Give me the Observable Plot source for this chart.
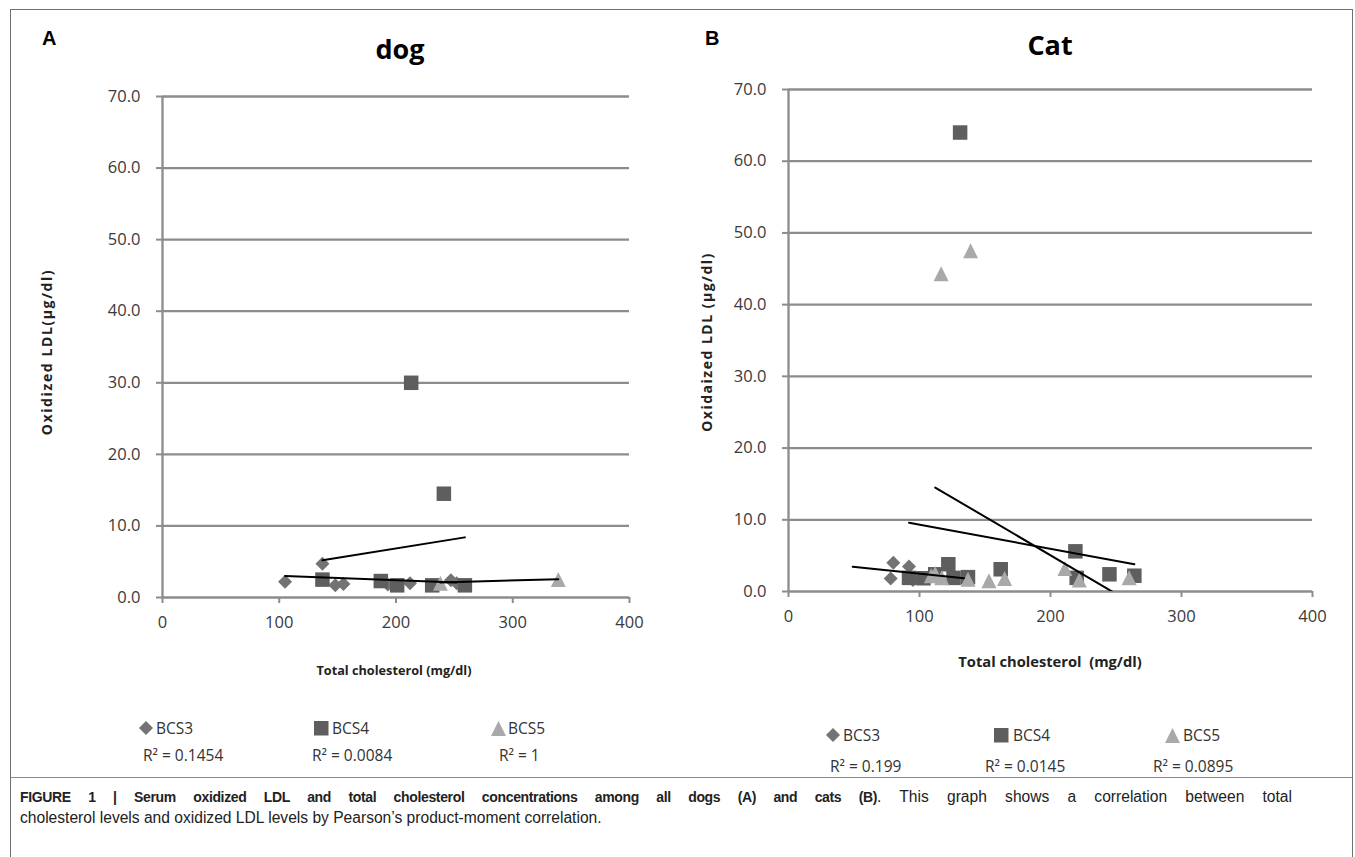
<!DOCTYPE html>
<html><head><meta charset="utf-8">
<script src="https://cdn.jsdelivr.net/npm/d3@7"></script>
<script src="https://cdn.jsdelivr.net/npm/@observablehq/plot@0.6"></script>
<style>
body{margin:0;background:#fff;}
#fig{position:relative;width:1355px;height:857px;overflow:hidden;font-family:"Open Sans",sans-serif;color:#222;}
.abs{position:absolute;white-space:nowrap;}
.panel{position:absolute;top:0;}
.leg{position:absolute;white-space:nowrap;font-family:"Open Sans",sans-serif;font-size:15.5px;color:#333;line-height:20px;}
.cap{position:absolute;white-space:nowrap;font-family:"Liberation Sans",Arial,sans-serif;font-size:15.6px;line-height:21px;color:#222;}
.cap b{font-size:14px;letter-spacing:-0.35px;}
</style></head><body><div id="fig"></div>
<script>
// ---- data ----
const seriesNames = ["BCS3", "BCS4", "BCS5"];
const seriesColors = ["#737373", "#5e5e5e", "#a9a9a9"];
const yTicks = [0, 10, 20, 30, 40, 50, 60, 70];
const gridTicks = [10, 20, 30, 40, 50, 60, 70];
const xTicks = [0, 100, 200, 300, 400];

// dog (A)
const dogBCS3x = [105, 137, 148, 155, 193, 212, 247, 252];
const dogBCS3y = [2.2, 4.7, 1.7, 1.9, 1.8, 2.0, 2.4, 2.0];
const dogBCS4x = [137, 187, 201, 213, 231, 241, 259];
const dogBCS4y = [2.5, 2.3, 1.7, 30.0, 1.7, 14.5, 1.7];
const dogBCS5x = [238, 339];
const dogBCS5y = [2.0, 2.5];
const dogTrendBCS3x = [105, 252];
const dogTrendBCS3y = [3.0, 2.1];
const dogTrendBCS4x = [137, 259];
const dogTrendBCS4y = [5.2, 8.4];
const dogTrendBCS5x = [238, 339];
const dogTrendBCS5y = [2.1, 2.55];
const dogR2 = ["R² = 0.1454", "R² = 0.0084", "R² = 1"];

// cat (B)
const catBCS3x = [78, 80, 92, 95];
const catBCS3y = [1.8, 4.0, 3.5, 1.6];
const catBCS4x = [92, 103, 112, 122, 126, 131, 137, 162, 219, 220, 245, 264];
const catBCS4y = [1.9, 1.85, 2.4, 3.8, 1.9, 64.0, 2.0, 3.1, 5.6, 1.9, 2.4, 2.2];
const catBCS5x = [109, 112, 117, 116.5, 137, 139, 153, 165, 211, 222, 260];
const catBCS5y = [2.2, 2.5, 1.9, 44.3, 1.7, 47.5, 1.5, 1.8, 3.2, 1.6, 1.9];
const catTrendBCS3x = [49, 134];
const catTrendBCS3y = [3.45, 1.85];
const catTrendBCS4x = [92, 264];
const catTrendBCS4y = [9.6, 3.8];
const catTrendBCS5x = [112, 260];
const catTrendBCS5y = [14.5, -1.4];
const catR2 = ["R² = 0.199", "R² = 0.0145", "R² = 0.0895"];

// ---- helpers ----
const rows = (xs, ys) => xs.map((x, i) => ({x, y: ys[i]}));
const symDiamond = {draw(c, s){const w = Math.sqrt(s)/2; c.moveTo(0,-w); c.lineTo(w,0); c.lineTo(0,w); c.lineTo(-w,0); c.closePath();}};
const symSquare = {draw(c, s){const w = Math.sqrt(s)/2; c.moveTo(-w,-w); c.lineTo(w,-w); c.lineTo(w,w); c.lineTo(-w,w); c.closePath();}};
const symTriangle = {draw(c, s){const w = Math.sqrt(s)/2; c.moveTo(0,-w); c.lineTo(w,w); c.lineTo(-w,w); c.closePath();}};
const symbols = [symDiamond, symSquare, symTriangle];
const symWidths = [14, 14.5, 15];
const rOf = w => w / Math.sqrt(Math.PI);

function panel({w, h, ml, mr, mt, mb, pts, trends}) {
  const marks = [
    Plot.ruleY(gridTicks, {stroke: "#8c8c8c", strokeWidth: 2.3}),
    Plot.ruleY([0], {stroke: "#8c8c8c", strokeWidth: 2.3}),
    Plot.ruleX([0], {stroke: "#8c8c8c", strokeWidth: 2.3}),
    Plot.axisY({ticks: yTicks, tickFormat: d3.format(".1f"), tickSize: 6, tickPadding: 16, stroke: "#8c8c8c", strokeWidth: 2, fill: "#3a3a3a", label: null}),
    Plot.axisX({ticks: xTicks, tickSize: 6, tickPadding: 13, stroke: "#8c8c8c", strokeWidth: 2, fill: "#3a3a3a", label: null})
  ];
  pts.forEach((p, i) => marks.push(Plot.dot(p, {x: "x", y: "y", symbol: symbols[i], r: rOf(symWidths[i]), fill: seriesColors[i], stroke: "none"})));
  trends.forEach(t => marks.push(Plot.line(t, {x: "x", y: "y", stroke: "#000", strokeWidth: 2, clip: true})));
  return Plot.plot({
    width: w, height: h, marginLeft: ml, marginRight: mr, marginTop: mt, marginBottom: mb,
    x: {domain: [0, 400]}, y: {domain: [0, 70]},
    style: {fontFamily: "Open Sans", fontSize: "16.5px", background: "transparent", overflow: "visible"},
    marks
  });
}

const fig = document.getElementById("fig");
function add(html, css, cls = "abs") { const d = document.createElement("div"); d.className = cls; d.innerHTML = html; Object.assign(d.style, css); fig.appendChild(d); return d; }

// outer frame and separator
add("", {left: "10px", top: "9px", width: "1341px", height: "900px", border: "1.5px solid #707070"});
add("", {left: "10px", top: "777px", width: "1342px", height: "0", borderTop: "1.5px solid #8a8a8a"});

// dog panel
const dog = panel({w: 660, h: 700, ml: 162, mr: 31, mt: 96, mb: 103,
  pts: [rows(dogBCS3x, dogBCS3y), rows(dogBCS4x, dogBCS4y), rows(dogBCS5x, dogBCS5y)],
  trends: [rows(dogTrendBCS3x, dogTrendBCS3y), rows(dogTrendBCS4x, dogTrendBCS4y), rows(dogTrendBCS5x, dogTrendBCS5y)]});
dog.classList.add("panel"); dog.style.left = "0px"; fig.appendChild(dog);

// cat panel
const cat = panel({w: 695, h: 700, ml: 128, mr: 43, mt: 89, mb: 109,
  pts: [rows(catBCS3x, catBCS3y), rows(catBCS4x, catBCS4y), rows(catBCS5x, catBCS5y)],
  trends: [rows(catTrendBCS3x, catTrendBCS3y), rows(catTrendBCS4x, catTrendBCS4y), rows(catTrendBCS5x, catTrendBCS5y)]});
cat.classList.add("panel"); cat.style.left = "660px"; fig.appendChild(cat);

// panel letters and titles
const bold = {fontFamily: "Liberation Sans, Arial, sans-serif", fontWeight: "bold", fontSize: "20px", color: "#000"};
add("A", {...bold, left: "42px", top: "27px"});
add("B", {...bold, left: "705px", top: "27px"});
const ttl = {fontFamily: "Open Sans", fontWeight: "bold", fontSize: "27px", color: "#000", transform: "translate(-50%,-50%)"};
add("dog", {...ttl, left: "400px", top: "48px"});
add("Cat", {...ttl, left: "1050px", top: "44px"});

// axis titles
const yt = {fontFamily: "Open Sans", fontWeight: "bold", fontSize: "14px", color: "#222", transform: "translate(-50%,-50%) rotate(-90deg)"};
add("Oxidized LDL(μg/dl)", {...yt, left: "46px", top: "352px", letterSpacing: "1.6px"});
add("Oxidaized LDL (μg/dl)", {...yt, left: "706px", top: "342px", letterSpacing: "1.5px"});
const xt = {fontFamily: "Open Sans", fontWeight: "bold", fontSize: "12.7px", color: "#222", transform: "translate(-50%,-50%)"};
add("Total cholesterol (mg/dl)", {...xt, left: "394px", top: "670px"});
add("Total cholesterol&nbsp; (mg/dl)", {...xt, left: "1050px", top: "661px", fontSize: "14.7px"});

// legends
function legend(entries, rowY, r2Y, r2) {
  entries.forEach((e, i) => {
    const w = symWidths[i];
    const svg = d3.create("svg").attr("width", w + 2).attr("height", w + 2)
      .style("position", "absolute").style("left", (e.sx - w/2 - 1) + "px").style("top", (rowY - w/2 - 1) + "px");
    svg.append("path").attr("transform", `translate(${w/2 + 1},${w/2 + 1})`)
      .attr("d", d3.symbol(symbols[i], w * w)()).attr("fill", seriesColors[i]);
    fig.appendChild(svg.node());
    const t = document.createElement("div"); t.className = "leg"; t.textContent = seriesNames[i];
    t.style.left = e.tx + "px"; t.style.top = (rowY - 10) + "px"; fig.appendChild(t);
    const r = document.createElement("div"); r.className = "leg"; r.textContent = r2[i];
    r.style.left = e.rx + "px"; r.style.top = (r2Y - 10) + "px"; fig.appendChild(r);
  });
}
legend([{sx: 146, tx: 156, rx: 143}, {sx: 321, tx: 332, rx: 312}, {sx: 498, tx: 508, rx: 499}], 728, 755, dogR2);
legend([{sx: 833, tx: 843, rx: 830}, {sx: 1001, tx: 1013, rx: 985}, {sx: 1172, tx: 1183, rx: 1153}], 735, 766, catR2);

// caption (first line justified to full width, as in the reference)
add("<b>FIGURE 1 | Serum oxidized LDL and total cholesterol concentrations among all dogs (A) and cats (B)</b>. This graph shows a correlation between total",
  {left: "20px", top: "786px", width: "1272px", whiteSpace: "normal", textAlign: "justify", textAlignLast: "justify"}, "cap");
add("cholesterol levels and oxidized LDL levels by Pearson’s product-moment correlation.",
  {left: "20px", top: "807px"}, "cap");
</script></body></html>
